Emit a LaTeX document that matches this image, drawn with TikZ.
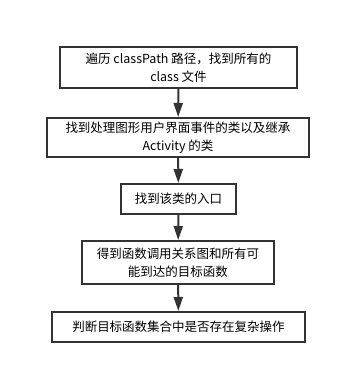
\documentclass[tikz,border=0pt]{standalone}
\usepackage{fontspec}
\setmainfont{Noto Sans CJK SC}
\usetikzlibrary{arrows.meta}
\definecolor{ink}{HTML}{333333}
\begin{document}
\begin{tikzpicture}[x=1pt,y=-1pt,
  stepbox/.style={draw=ink,line width=2pt,fill=white,inner sep=0pt,
    align=center,text=black,font=\fontsize{12.5}{18}\selectfont},
  flow/.style={draw=ink,line width=2pt,
    -{Triangle[width=9pt,length=14pt]},shorten >=0pt}]
\useasboundingbox[fill=white] (0,0) rectangle (341,373);
\node[stepbox,minimum width=237pt,minimum height=41pt] (s1) at (178.5,67.5)
  {遍历 classPath 路径，找到所有的\\class 文件};
\node[stepbox,minimum width=262pt,minimum height=39pt] (s2) at (178,137.5)
  {找到处理图形用户界面事件的类以及继承\\Activity 的类};
\node[stepbox,minimum width=115pt,minimum height=30pt] (s3) at (178.5,199)
  {找到该类的入口};
\node[stepbox,minimum width=192pt,minimum height=43pt] (s4) at (178,262.5)
  {得到函数调用关系图和所有可\\能到达的目标函数};
\node[stepbox,minimum width=253pt,minimum height=30pt] (s5) at (178.5,327)
  {判断目标函数集合中是否存在复杂操作};
\draw[flow] (s1) -- (s2);
\draw[flow] (s2) -- (s3);
\draw[flow] (s3) -- (s4);
\draw[flow] (s4) -- (s5);
\end{tikzpicture}
\end{document}
